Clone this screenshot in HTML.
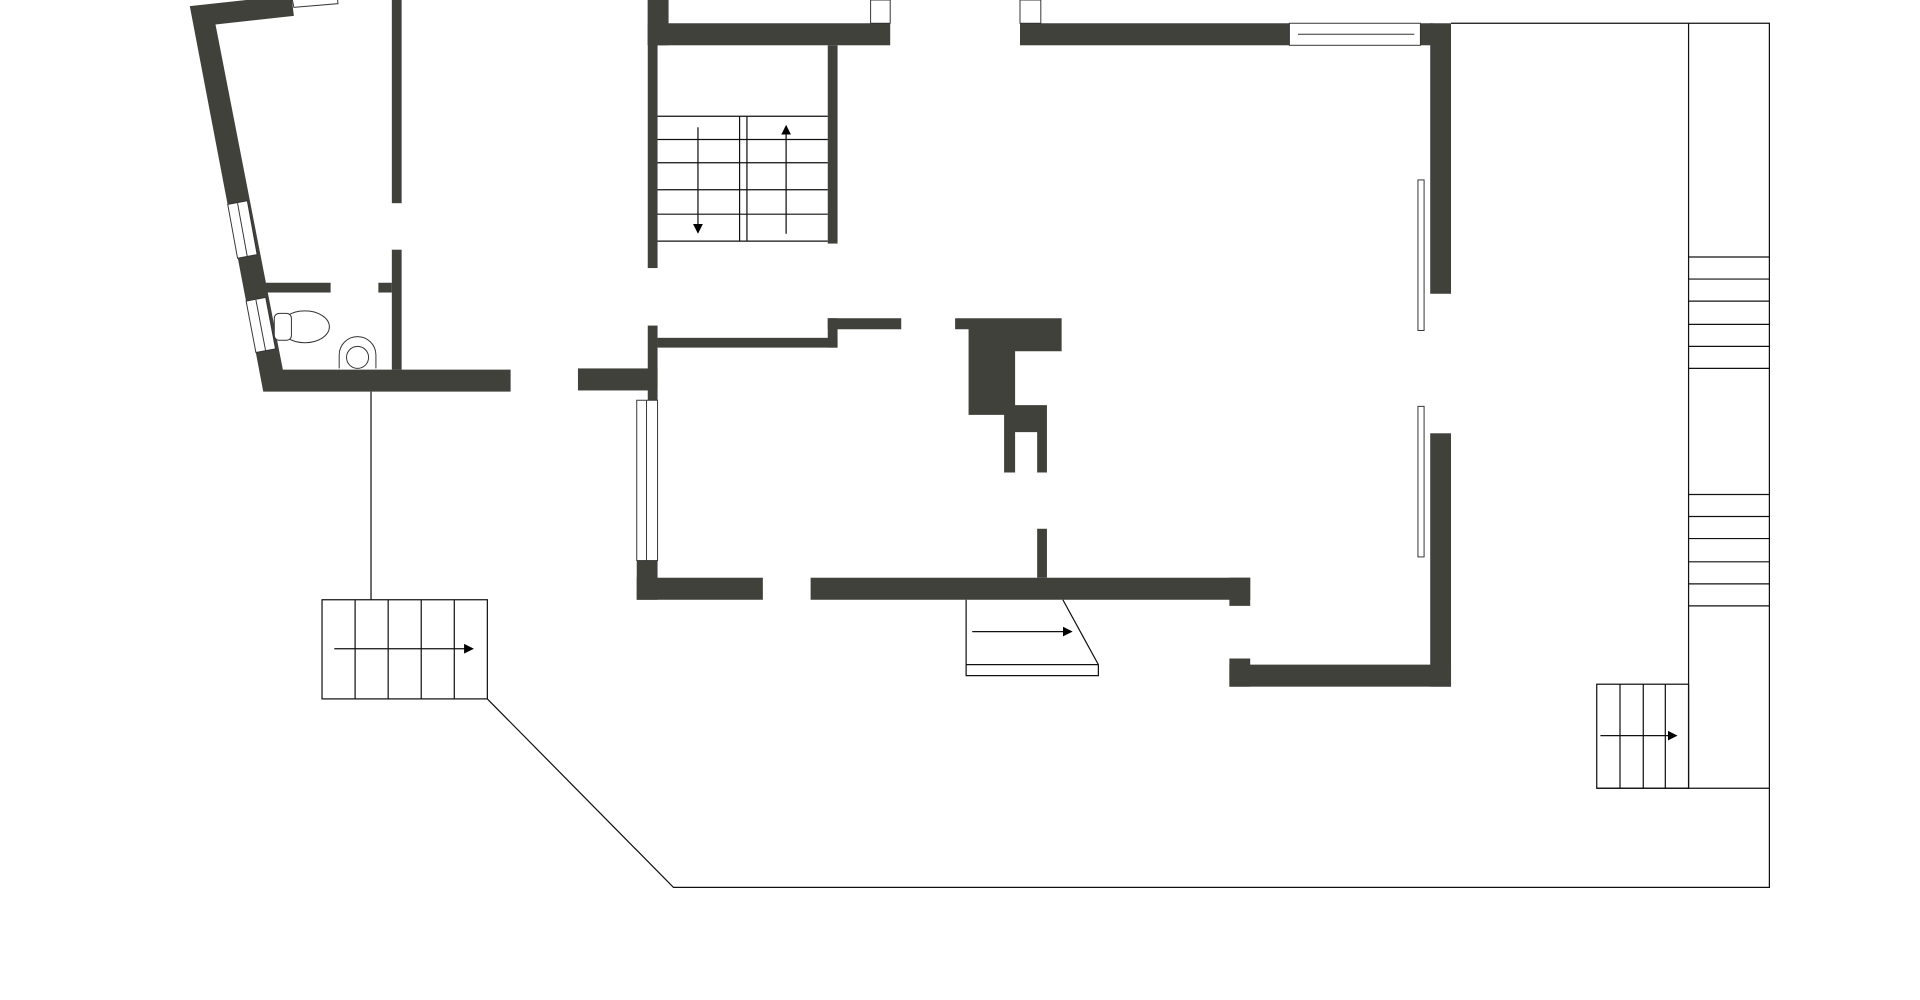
<!DOCTYPE html>
<html><head><meta charset="utf-8"><style>
html,body{margin:0;padding:0;background:#fff;width:1920px;height:1000px;overflow:hidden}
svg{display:block}
</style></head><body>
<svg width="1920" height="1000" viewBox="0 0 1568 817" preserveAspectRatio="none" xmlns="http://www.w3.org/2000/svg">
<defs><marker id="ah" markerWidth="8" markerHeight="8" refX="7" refY="4" orient="auto" markerUnits="userSpaceOnUse"><path d="M0,0 L8,4 L0,8 z" fill="#000"/></marker></defs>
<rect width="1568" height="817" fill="#fff"/>
<g fill="#41413c">
<!-- left room -->
<polygon points="155,5 238,-4 240,13 176,20 231,302 417,302 417,320 215,320"/>
<rect x="320" y="0" width="8" height="166"/>
<rect x="320" y="204" width="8" height="98"/>
<rect x="309" y="231" width="11" height="8"/>
<rect x="217" y="231" width="53" height="8"/>
<!-- center top -->
<rect x="529" y="0" width="8" height="219"/>
<rect x="529" y="0" width="17" height="37"/>
<rect x="529" y="19" width="198" height="18"/>
<rect x="676" y="37" width="8" height="162"/>
<!-- top right -->
<rect x="833" y="19" width="337" height="18"/>
<rect x="1168" y="19" width="17" height="221"/>
<rect x="1168" y="354" width="17" height="207"/>
<rect x="1004" y="543" width="181" height="18"/>
<rect x="1004" y="538" width="17" height="23"/>
<!-- middle -->
<rect x="529" y="266" width="8" height="61"/>
<rect x="537" y="276" width="147" height="8"/>
<rect x="676" y="260" width="8" height="24"/>
<rect x="676" y="260" width="60" height="9"/>
<rect x="472" y="301" width="65" height="18"/>
<rect x="520" y="458" width="17" height="32"/>
<rect x="520" y="472" width="103" height="18"/>
<rect x="662" y="472" width="359" height="18"/>
<rect x="1004" y="472" width="17" height="23"/>
<rect x="847" y="432" width="8" height="40"/>
<polygon points="780,260 867,260 867,287 829,287 829,331 855,331 855,386 847,386 847,353 829,353 829,386 820,386 820,339 791,339 791,269 780,269"/>
</g>
<g fill="#fff" stroke="#333" stroke-width="0.8">
<!-- windows -->
<polygon points="186,167 202,164 210,208 194,211"/>
<line x1="194" y1="166" x2="202" y2="210"/>
<polygon points="201,246 217,243 225,285 209,288"/>
<line x1="209" y1="245" x2="217" y2="287"/>
<polygon points="238,-4 275,-8 276,3 240,6"/>
<rect x="711" y="0" width="16" height="19"/>
<rect x="833" y="0" width="17" height="19"/>
<rect x="1053" y="19" width="107" height="18"/>
<line x1="1060" y1="28" x2="1155" y2="28"/>
<rect x="520" y="327" width="17" height="131"/>
<line x1="528" y1="327" x2="528" y2="458"/>
<rect x="1158" y="147" width="5" height="123"/>
<rect x="1158" y="332" width="5" height="123"/>
<!-- toilet & sink -->
<ellipse cx="249" cy="267" rx="20" ry="13"/>
<rect x="224" y="256" width="14" height="22" rx="4"/>
<path d="M277,301 L277,290 A15,15 0 0 1 307,290 L307,301"/>
<circle cx="292" cy="292" r="9"/>
</g>
<g fill="none" stroke="#111" stroke-width="1">
<line x1="303" y1="320" x2="303" y2="490"/>
<rect x="263" y="490" width="135" height="81"/>
<line x1="290" y1="490" x2="290" y2="571"/>
<line x1="317" y1="490" x2="317" y2="571"/>
<line x1="344" y1="490" x2="344" y2="571"/>
<line x1="371" y1="490" x2="371" y2="571"/>
<line x1="273" y1="530" x2="386" y2="530" marker-end="url(#ah)"/>
<polyline points="398,571 550,725 1445,725 1445,19 1185,19"/>
<line x1="1379" y1="19" x2="1379" y2="644"/>
<line x1="1304" y1="644" x2="1445" y2="644"/>
<rect x="1304" y="559" width="75" height="85"/>
<line x1="1323" y1="559" x2="1323" y2="644"/>
<line x1="1342" y1="559" x2="1342" y2="644"/>
<line x1="1360" y1="559" x2="1360" y2="644"/>
<line x1="1307" y1="601" x2="1369" y2="601" marker-end="url(#ah)"/>
<g>
<line x1="1379" y1="210" x2="1445" y2="210"/><line x1="1379" y1="228" x2="1445" y2="228"/>
<line x1="1379" y1="246" x2="1445" y2="246"/><line x1="1379" y1="265" x2="1445" y2="265"/>
<line x1="1379" y1="283" x2="1445" y2="283"/><line x1="1379" y1="301" x2="1445" y2="301"/>
<line x1="1379" y1="404" x2="1445" y2="404"/><line x1="1379" y1="422" x2="1445" y2="422"/>
<line x1="1379" y1="440" x2="1445" y2="440"/><line x1="1379" y1="459" x2="1445" y2="459"/>
<line x1="1379" y1="477" x2="1445" y2="477"/><line x1="1379" y1="495" x2="1445" y2="495"/>
</g>
<!-- center stairs -->
<line x1="537" y1="95" x2="676" y2="95"/><line x1="537" y1="114" x2="676" y2="114"/>
<line x1="537" y1="133" x2="676" y2="133"/><line x1="537" y1="155" x2="676" y2="155"/>
<line x1="537" y1="175" x2="676" y2="175"/><line x1="537" y1="197" x2="676" y2="197"/>
<line x1="604" y1="95" x2="604" y2="197"/><line x1="610" y1="95" x2="610" y2="197"/>
<line x1="570" y1="104" x2="570" y2="190" marker-end="url(#ah)"/>
<line x1="642" y1="191" x2="642" y2="103" marker-end="url(#ah)"/>
<!-- ramp -->
<polyline points="789,490 789,552 897,552 897,543 868,490"/>
<line x1="789" y1="543" x2="897" y2="543"/>
<line x1="794" y1="516" x2="875" y2="516" marker-end="url(#ah)"/>
</g>
</svg>
</body></html>
